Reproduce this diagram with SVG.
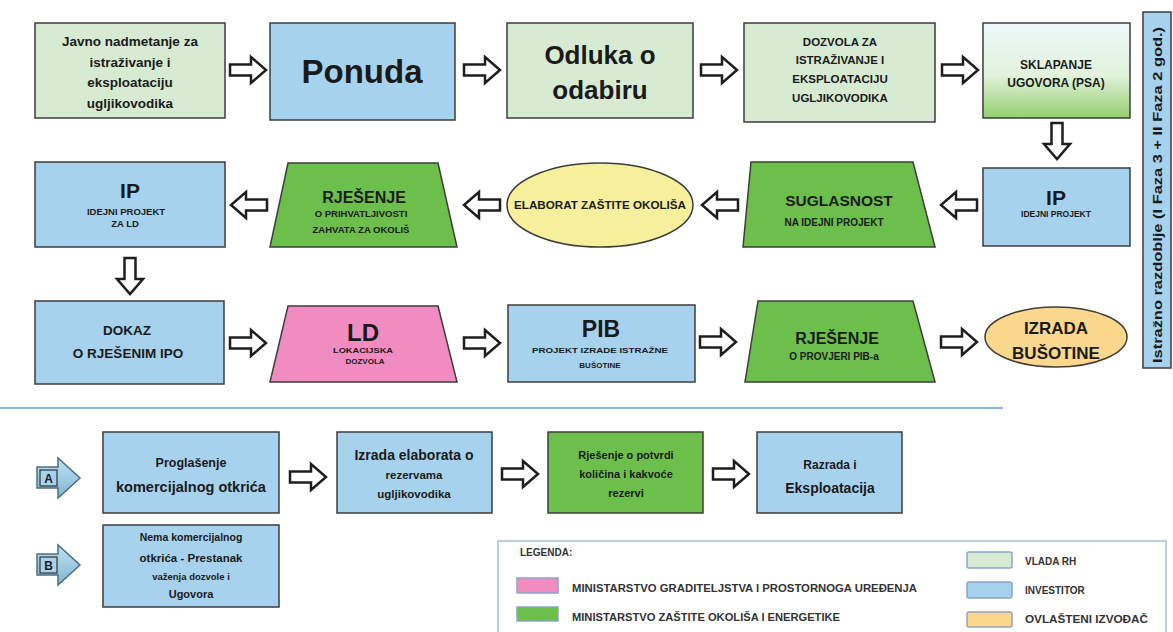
<svg xmlns="http://www.w3.org/2000/svg" width="1173" height="632" viewBox="0 0 1173 632">
<style>
text{font-family:"Liberation Sans",Arial,sans-serif;font-weight:bold;fill:#1a1a1a;text-anchor:middle}
.n{stroke:#3d3d3d;stroke-width:1.5}
.g1{fill:#d7ebd3}
.bl{fill:#a7d2ee}
.gr{fill:#6cbf4b}
.pk{fill:#f08cc0}
.ye{fill:#f6f09c}
.or{fill:#fcd88c}
.ar{fill:#fff;stroke:#1e1e1e;stroke-width:2.5;stroke-linejoin:miter}
.lg{font-weight:bold;font-size:10px;fill:#333;text-anchor:start}
.sw{stroke:#8fa3c8;stroke-width:1.5}
</style>
<defs>
<path id="arr" d="M0,-5.5 H21 V-13 L36,0 L21,13 V5.5 H0 Z"/>
<linearGradient id="gsk" x1="0" y1="0" x2="0" y2="1">
<stop offset="0" stop-color="#eef8fb"/>
<stop offset="0.55" stop-color="#e2f2dc"/>
<stop offset="1" stop-color="#95cf6e"/>
</linearGradient>
<linearGradient id="gab" x1="0" y1="0" x2="0" y2="1">
<stop offset="0" stop-color="#bfe2f3"/>
<stop offset="1" stop-color="#7fb6d3"/>
</linearGradient>
</defs>

<!-- separator -->
<line x1="0" y1="408" x2="1003" y2="408" stroke="#8fb3e0" stroke-width="2"/>

<!-- row 1 -->
<g id="javno">
<rect class="n g1" x="35" y="23" width="190" height="95"/>
<text font-size="13.5"><tspan x="130" y="46">Javno nadmetanje za</tspan><tspan x="130" y="67">istraživanje i</tspan><tspan x="130" y="87">eksploataciju</tspan><tspan x="130" y="108">ugljikovodika</tspan></text>
</g>
<g id="ponuda">
<rect class="n bl" x="270" y="23" width="185" height="97"/>
<text font-size="33" x="362" y="83">Ponuda</text>
</g>
<g id="odluka">
<rect class="n g1" x="507" y="23" width="186" height="95"/>
<text font-size="26"><tspan x="600" y="64">Odluka o</tspan><tspan x="600" y="99">odabiru</tspan></text>
</g>
<g id="dozvola">
<rect class="n g1" x="744" y="23" width="191" height="99"/>
<text font-size="11.5"><tspan x="840" y="46">DOZVOLA ZA</tspan><tspan x="840" y="64">ISTRAŽIVANJE I</tspan><tspan x="840" y="83">EKSPLOATACIJU</tspan><tspan x="840" y="102">UGLJIKOVODIKA</tspan></text>
</g>
<g id="sklapanje">
<rect class="n" fill="url(#gsk)" x="983" y="23" width="147" height="95"/>
<text font-size="12"><tspan x="1056" y="69">SKLAPANJE</tspan><tspan x="1056" y="87">UGOVORA (PSA)</tspan></text>
</g>
<g id="razdoblje">
<rect class="n bl" x="1143" y="12" width="28" height="356"/>
<text font-size="12" transform="translate(1162,195) rotate(-90)" textLength="336" lengthAdjust="spacingAndGlyphs">Istražno razdoblje (I Faza 3 + II Faza 2 god.)</text>
</g>

<!-- row 2 -->
<g id="ip-ld">
<rect class="n bl" x="35" y="162" width="190" height="85"/>
<text font-size="21" x="130" y="198">IP</text>
<text font-size="9.5"><tspan x="126" y="215">IDEJNI PROJEKT</tspan><tspan x="125" y="227">ZA LD</tspan></text>
</g>
<g id="rjesenje-okolis">
<polygon class="n gr" points="288,163 438,163 457,247 270,247"/>
<text font-size="16" x="364" y="203">RJEŠENJE</text>
<text font-size="9.5"><tspan x="361" y="217">O PRIHVATLJIVOSTI</tspan><tspan x="361" y="233">ZAHVATA ZA OKOLIŠ</tspan></text>
</g>
<g id="elaborat">
<ellipse class="n ye" cx="600" cy="205" rx="93" ry="42"/>
<text font-size="10.5" x="600" y="209" textLength="172" lengthAdjust="spacingAndGlyphs">ELABORAT ZAŠTITE OKOLIŠA</text>
</g>
<g id="suglasnost">
<polygon class="n gr" points="751,162 913,162 935,247 743,247"/>
<text font-size="15.5" x="839" y="206">SUGLASNOST</text>
<text font-size="10" x="834" y="226">NA IDEJNI PROJEKT</text>
</g>
<g id="ip">
<rect class="n bl" x="983" y="168" width="147" height="78"/>
<text font-size="21" x="1056" y="205">IP</text>
<text font-size="8.5" x="1056" y="217">IDEJNI PROJEKT</text>
</g>

<!-- row 3 -->
<g id="dokaz">
<rect class="n bl" x="35" y="301" width="189" height="83"/>
<text font-size="13.5"><tspan x="127" y="335">DOKAZ</tspan><tspan x="128" y="358">O RJEŠENIM IPO</tspan></text>
</g>
<g id="ld">
<polygon class="n pk" points="288,306 438,306 457,382 270,382"/>
<text font-size="24" x="363" y="341">LD</text>
<text font-size="8"><tspan x="363" y="353" textLength="60" lengthAdjust="spacingAndGlyphs">LOKACIJSKA</tspan><tspan x="365" y="364">DOZVOLA</tspan></text>
</g>
<g id="pib">
<rect class="n bl" x="508" y="305" width="187" height="77"/>
<text font-size="23" x="601" y="337">PIB</text>
<text font-size="8"><tspan x="600" y="353" textLength="136" lengthAdjust="spacingAndGlyphs">PROJEKT IZRADE ISTRAŽNE</tspan><tspan x="600" y="368">BUŠOTINE</tspan></text>
</g>
<g id="rjesenje-pib">
<polygon class="n gr" points="758,301 913,301 935,382 745,382"/>
<text font-size="16" x="837" y="344">RJEŠENJE</text>
<text font-size="10" x="834" y="360">O PROVJERI PIB-a</text>
</g>
<g id="izrada">
<ellipse class="n or" cx="1056" cy="337" rx="71" ry="30"/>
<text font-size="17"><tspan x="1056" y="334">IZRADA</tspan><tspan x="1056" y="359">BUŠOTINE</tspan></text>
</g>

<!-- bottom -->
<g id="a">
<polygon points="37,467 58,467 58,458 80,478 58,498 58,488 37,488" fill="url(#gab)" stroke="#4d6e80" stroke-width="1.5"/>
<rect x="40" y="470" width="17" height="16" fill="#a7d2ee" stroke="#333" stroke-width="1.2"/>
<text font-size="12" x="48.5" y="483">A</text>
</g>
<g id="proglasenje">
<rect class="n bl" x="103" y="432" width="176" height="81"/>
<text><tspan font-size="12.5" x="191" y="467">Proglašenje</tspan><tspan font-size="14.5" x="191" y="492">komercijalnog otkrića</tspan></text>
</g>
<g id="izrada-elaborata">
<rect class="n bl" x="337" y="432" width="155" height="81"/>
<text><tspan font-size="14" x="414" y="460">Izrada elaborata o</tspan><tspan font-size="11.5" x="414" y="479">rezervama</tspan><tspan font-size="11.5" x="414" y="498">ugljikovodika</tspan></text>
</g>
<g id="rjesenje-rezerve">
<rect class="n gr" x="548" y="432" width="155" height="81"/>
<text font-size="11"><tspan x="626" y="459">Rješenje o potvrdi</tspan><tspan x="626" y="478">količina i kakvoće</tspan><tspan x="626" y="497">rezervi</tspan></text>
</g>
<g id="razrada">
<rect class="n bl" x="757" y="432" width="145" height="81"/>
<text><tspan font-size="12" x="830" y="469">Razrada i</tspan><tspan font-size="14" x="830" y="493">Eksploatacija</tspan></text>
</g>
<g id="b">
<polygon points="37,554 58,554 58,545 80,565 58,585 58,575 37,575" fill="url(#gab)" stroke="#4d6e80" stroke-width="1.5"/>
<rect x="40" y="557" width="17" height="16" fill="#a7d2ee" stroke="#333" stroke-width="1.2"/>
<text font-size="12" x="48.5" y="570">B</text>
</g>
<g id="nema">
<rect class="n bl" x="103" y="525" width="176" height="82"/>
<text><tspan font-size="10.5" x="191" y="541">Nema komercijalnog</tspan><tspan font-size="11.5" x="191" y="562">otkrića - Prestanak</tspan><tspan font-size="9.5" x="191" y="580">važenja dozvole i</tspan><tspan font-size="11" x="191" y="598">Ugovora</tspan></text>
</g>

<!-- legend -->
<g id="legenda">
<rect x="498" y="541" width="668" height="100" fill="#fff" stroke="#a8bdd6" stroke-width="1.5"/>
<text class="lg" font-weight="normal" font-size="10.5" x="520" y="556">LEGENDA:</text>
<rect class="sw pk" x="517" y="578" width="41" height="15"/>
<text class="lg" x="572" y="592" textLength="345" lengthAdjust="spacingAndGlyphs">MINISTARSTVO GRADITELJSTVA I PROSTORNOGA UREĐENJA</text>
<rect class="sw gr" x="517" y="607" width="41" height="14"/>
<text class="lg" x="572" y="621" textLength="268" lengthAdjust="spacingAndGlyphs">MINISTARSTVO ZAŠTITE OKOLIŠA I ENERGETIKE</text>
<rect class="sw g1" x="967" y="552" width="45" height="16" rx="2"/>
<text class="lg" x="1025" y="565">VLADA  RH</text>
<rect class="sw bl" x="967" y="582" width="45" height="16" rx="2"/>
<text class="lg" x="1025" y="594">INVESTITOR</text>
<rect class="sw or" x="967" y="612" width="45" height="15" rx="2"/>
<text class="lg" x="1025" y="623" textLength="123" lengthAdjust="spacingAndGlyphs">OVLAŠTENI IZVOĐAČ</text>
</g>

<!-- connectors -->
<g id="connectors" class="ar">
<use href="#arr" transform="translate(230,70)"/>
<use href="#arr" transform="translate(464,70)"/>
<use href="#arr" transform="translate(701,70)"/>
<use href="#arr" transform="translate(942,70)"/>
<use href="#arr" transform="translate(1057,123) rotate(90)"/>
<use href="#arr" transform="translate(977,205) rotate(180)"/>
<use href="#arr" transform="translate(738,205) rotate(180)"/>
<use href="#arr" transform="translate(500,205) rotate(180)"/>
<use href="#arr" transform="translate(267,205) rotate(180)"/>
<use href="#arr" transform="translate(130,258) rotate(90)"/>
<use href="#arr" transform="translate(230,343)"/>
<use href="#arr" transform="translate(464,343)"/>
<use href="#arr" transform="translate(700,342)"/>
<use href="#arr" transform="translate(941,342)"/>
<use href="#arr" transform="translate(290,477)"/>
<use href="#arr" transform="translate(502,474)"/>
<use href="#arr" transform="translate(713,474)"/>
</g>
</svg>
